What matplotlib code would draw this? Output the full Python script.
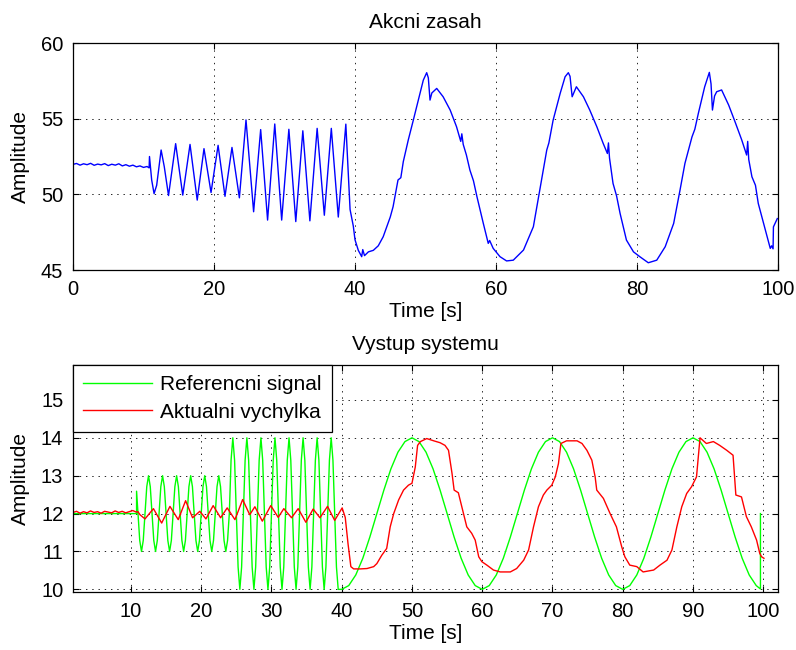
import numpy as np
import matplotlib
matplotlib.use("Agg")
import matplotlib.pyplot as plt

plt.rcParams['font.family'] = ['Liberation Sans', 'DejaVu Sans']
plt.rcParams['font.size'] = 15
plt.rcParams['lines.scale_dashes'] = False

# ---- akcni zasah (horni graf) ----
cas_u = [0, 0.5, 1, 1.5, 2, 2.5, 3, 3.5, 4, 4.5, 5, 5.5, 6, 6.5, 7, 7.5, 8, 8.5, 9, 9.5, 10, 10.5,
         10.8, 10.85, 11.16, 11.5, 11.87, 12.5, 12.95, 13.55, 14.56,
         15.57, 16.6, 17.62, 18.58, 19.58, 20.58, 21.56, 22.55, 23.6, 24.54,
         25.62, 26.62, 27.6, 28.62, 29.6, 30.62, 31.6, 32.6, 33.6, 34.63,
         35.65, 36.64, 37.63, 38.7, 39.3, 39.76, 40.0, 40.47, 40.95, 41.1,
         41.35, 41.9, 42.6, 43.3, 44.0, 44.7, 45.0, 45.4, 46.1, 46.5, 46.85, 47.56,
         48.27, 48.98, 49.69, 50.17, 50.4, 50.64, 50.9, 51.59, 52.5, 53.5,
         54.4, 55.0, 55.15, 55.35, 55.8, 56.3, 56.8, 57.3, 58.2, 58.9, 59.1, 59.6, 60.57,
         61.5, 62.45, 63.9, 65.3, 66.2, 67.2, 67.5, 68.1, 69.1, 69.8, 70.26,
         70.5, 70.8, 71.4, 72.4, 73.3, 74.3, 75.2, 75.8, 75.95, 76.1,
         76.6, 77.1, 77.6, 78.5, 79.5, 80.4, 81.6, 82.8, 84.0, 85.2, 86.1,
         86.8, 87.8, 88.2, 88.7, 89.6, 90.26, 90.5, 90.7, 91.0, 91.3, 92.0,
         93.0, 93.9, 94.85, 95.55, 95.7, 95.85, 96.3, 96.8, 97.2, 98.2, 98.9,
         99.1, 99.3, 99.35, 99.9]
u = [51.98, 52.04, 51.93, 52.02, 51.96, 52.05, 51.92, 52.00, 51.95, 52.03, 51.90, 51.99, 51.93, 52.02,
     51.88, 51.96, 51.86, 51.93, 51.82, 51.88, 51.78, 51.84,
     51.75, 52.5, 50.95, 50.05, 50.6, 52.93, 51.82, 49.92, 53.35,
     49.95, 53.3, 49.62, 53.02, 50.12, 53.24, 49.87, 53.1, 49.77, 54.92,
     48.85, 54.28, 48.3, 54.65, 48.3, 54.3, 48.2, 54.2, 48.25, 54.36,
     48.62, 54.36, 48.5, 54.64, 49.0, 47.9, 47.0, 46.3, 45.88, 46.35,
     45.95, 46.2, 46.3, 46.6, 47.2, 48.1, 48.5, 49.18, 50.95, 51.1, 52.16, 53.6,
     54.9, 56.23, 57.55, 58.04, 57.7, 56.23, 56.7, 57.0, 56.45, 55.57,
     54.47, 53.5, 54.0, 53.3, 52.6, 51.6, 50.9, 49.84, 48.08, 46.76, 46.95, 46.43, 45.88,
     45.6, 45.65, 46.32, 47.86, 50.28, 52.93, 53.4, 54.9, 56.67, 57.77, 58.04,
     57.8, 56.45, 57.11, 56.45, 55.57, 54.47, 53.37, 52.7, 53.4, 52.4,
     50.72, 49.9, 48.74, 46.98, 46.2, 45.88, 45.48, 45.65, 46.54, 48.08, 50.28,
     52.05, 53.8, 54.3, 55.35, 57.11, 58.06, 57.3, 55.57, 56.5, 56.78, 56.9,
     55.9, 54.8, 53.6, 52.6, 53.5, 52.3, 51.16, 50.6, 49.4, 47.64, 46.43,
     46.6, 46.4, 47.85, 48.4]

# ---- vystup systemu (dolni graf) ----
# referencni signal: klidovy stav, rychle useky (krok 0.25 s), pomaly usek (krok 1 s)
cas_ref = [1.75, 10.8, 10.8] + list(np.arange(11.0, 39.6, 0.25)) + list(range(40, 100)) + [99.6, 99.6]
ref = [12, 12, 12.59,
       12, 11.29, 11, 11.29, 12, 12.71, 13, 12.71,
       12, 11.29, 11, 11.29, 12, 12.71, 13, 12.71,
       12, 11.29, 11, 11.29, 12, 12.71, 13, 12.71,
       12, 11.29, 11, 11.29, 12, 12.71, 13, 12.71,
       12, 11.29, 11, 11.29, 12, 12.71, 13, 12.71,
       12, 11.29, 11, 11.29, 12, 12.71, 13, 12.71,
       12, 11.29, 11, 11.29,
       12, 13.41, 14, 13.41, 12, 10.59, 10, 10.59,
       12, 13.41, 14, 13.41, 12, 10.59, 10, 10.59,
       12, 13.41, 14, 13.41, 12, 10.59, 10, 10.59,
       12, 13.41, 14, 13.41, 12, 10.59, 10, 10.59,
       12, 13.41, 14, 13.41, 12, 10.59, 10, 10.59,
       12, 13.41, 14, 13.41, 12, 10.59, 10, 10.59,
       12, 13.41, 14, 13.41, 12, 10.59, 10, 10.59,
       12, 13.41, 14, 13.41, 12, 10.59, 10,
       10.00, 10.10, 10.38, 10.82, 11.38, 12.00, 12.62, 13.18, 13.62, 13.90,
       14.00, 13.90, 13.62, 13.18, 12.62, 12.00, 11.38, 10.82, 10.38, 10.10,
       10.00, 10.10, 10.38, 10.82, 11.38, 12.00, 12.62, 13.18, 13.62, 13.90,
       14.00, 13.90, 13.62, 13.18, 12.62, 12.00, 11.38, 10.82, 10.38, 10.10,
       10.00, 10.10, 10.38, 10.82, 11.38, 12.00, 12.62, 13.18, 13.62, 13.90,
       14.00, 13.90, 13.62, 13.18, 12.62, 12.00, 11.38, 10.82, 10.38, 10.10,
       10.01, 12.0]

cas_y = [1.75, 2.25, 2.75, 3.25, 3.75, 4.25, 4.75, 5.25, 5.75, 6.25, 6.75, 7.25, 7.75, 8.25, 8.75,
         9.25, 9.75, 10.25, 10.75,
         11.0, 11.28, 12.0, 13.2, 14.37, 15.55, 16.73, 17.78, 18.77, 19.8,
         20.67, 21.7, 22.76, 23.7, 24.8, 25.9, 26.9, 27.64, 28.7, 29.9,
         30.96, 31.76, 32.86, 33.8, 34.9, 35.93, 36.9, 37.98, 39.0, 40.06,
         40.5, 40.9, 41.3, 41.7, 42.65, 43.6, 44.55, 45.0, 45.7, 46.4,
         46.9, 47.4, 48.1, 48.8, 49.5, 50.0, 50.47, 50.8, 51.2, 52.1,
         53.1, 54.0, 54.7, 55.2, 55.7, 56.0, 56.6, 57.1, 57.8, 58.5,
         59.0, 59.5, 59.95, 60.66, 61.6, 62.56, 64.0, 64.9, 65.9, 66.6,
         67.3, 68.0, 68.7, 69.2, 69.9, 70.4, 70.85, 71.2, 72.0, 73.5,
         74.2, 74.9, 75.6, 76.07, 76.3, 77.25, 78.2, 79.1, 79.86, 80.3,
         81.0, 82.0, 82.9, 84.4, 85.3, 86.3, 87.0, 87.7, 88.4, 89.1,
         89.8, 90.5, 90.76, 91.0, 91.9, 92.9, 93.8, 94.8, 95.7, 96.1,
         96.9, 97.6, 98.3, 99.05, 99.5, 99.76, 100.1]
vychylka = [12.03, 12.06, 12.01, 12.05, 12.02, 12.07, 12.03, 12.05, 12.01, 12.06, 12.04, 12.02, 12.07,
            12.03, 12.06, 12.02, 12.05, 12.08, 12.04,
            12.05, 11.97, 11.86, 12.13, 11.75, 12.19, 11.84, 12.34, 11.89, 12.06,
            11.86, 12.21, 11.89, 12.15, 11.84, 12.37, 11.97, 12.18, 11.8, 12.21,
            11.9, 12.13, 11.89, 12.13, 11.77, 12.12, 11.89, 12.19, 11.82, 12.15,
            11.9, 11.2, 10.6, 10.54, 10.54, 10.55, 10.6, 10.68, 10.9, 11.08,
            11.65, 12.0, 12.36, 12.62, 12.75, 12.8, 13.23, 13.8, 13.9, 13.98,
            13.92, 13.87, 13.8, 13.67, 13.06, 12.62, 12.55, 12.18, 11.65, 11.48,
            11.3, 10.86, 10.73, 10.64, 10.51, 10.46, 10.46, 10.55, 10.77, 11.04,
            11.65, 12.18, 12.49, 12.62, 12.75, 12.97, 13.32, 13.85, 13.92, 13.92,
            13.85, 13.67, 13.41, 12.97, 12.62, 12.4, 12.0, 11.65, 11.12, 10.86,
            10.64, 10.6, 10.46, 10.51, 10.64, 10.77, 11.04, 11.65, 12.18, 12.53,
            12.71, 12.97, 13.5, 14.0, 13.85, 13.9, 13.8, 13.67, 13.54, 12.49,
            12.44, 11.92, 11.65, 11.3, 10.95, 10.86, 10.82]


def matlab_styl(ax):
    ax.grid(True, color='black', linestyle=(0, (1, 3.5)), linewidth=0.6)
    ax.tick_params(direction='in', top=True, right=True, length=4, width=0.8, pad=7, labelsize=14.5)
    for s in ax.spines.values():
        s.set_linewidth(0.9)


fig = plt.figure(figsize=(7.96, 6.5), dpi=100)

ax1 = fig.add_axes([0.0917, 0.5846, 0.8857, 0.3492])
ax1.plot(cas_u, u, color='#0000ff', linewidth=1.0)
ax1.set_xlim(0, 100)
ax1.set_ylim(45, 60)
ax1.set_xticks(range(0, 101, 20))
ax1.set_yticks([45, 50, 55, 60])
ax1.set_title('Akcni zasah', fontsize=15, pad=11)
ax1.set_xlabel('Time [s]', labelpad=2)
ax1.set_ylabel('Amplitude', labelpad=8)
matlab_styl(ax1)

ax2 = fig.add_axes([0.0917, 0.0892, 0.8857, 0.3492])
ax2.plot(cas_ref, ref, color='#00ff00', linewidth=1.0, label='Referencni signal')
ax2.plot(cas_y, vychylka, color='#ff0000', linewidth=1.0, label='Aktualni vychylka')
ax2.set_xlim(1.75, 102.1)
ax2.set_ylim(9.93, 15.92)
ax2.set_xticks(range(10, 101, 10))
ax2.set_yticks(range(10, 16))
ax2.set_title('Vystup systemu', fontsize=15, pad=11)
ax2.set_xlabel('Time [s]', labelpad=2)
ax2.set_ylabel('Amplitude', labelpad=8)
matlab_styl(ax2)
leg = ax2.legend(loc='upper left', bbox_to_anchor=(0, 1), borderaxespad=0, fancybox=False,
                 edgecolor='black', framealpha=1, handlelength=3.3, handletextpad=0.4,
                 labelspacing=0.4, borderpad=0.5)
leg.get_frame().set_linewidth(0.9)

fig.savefig('out.png', dpi=100)
